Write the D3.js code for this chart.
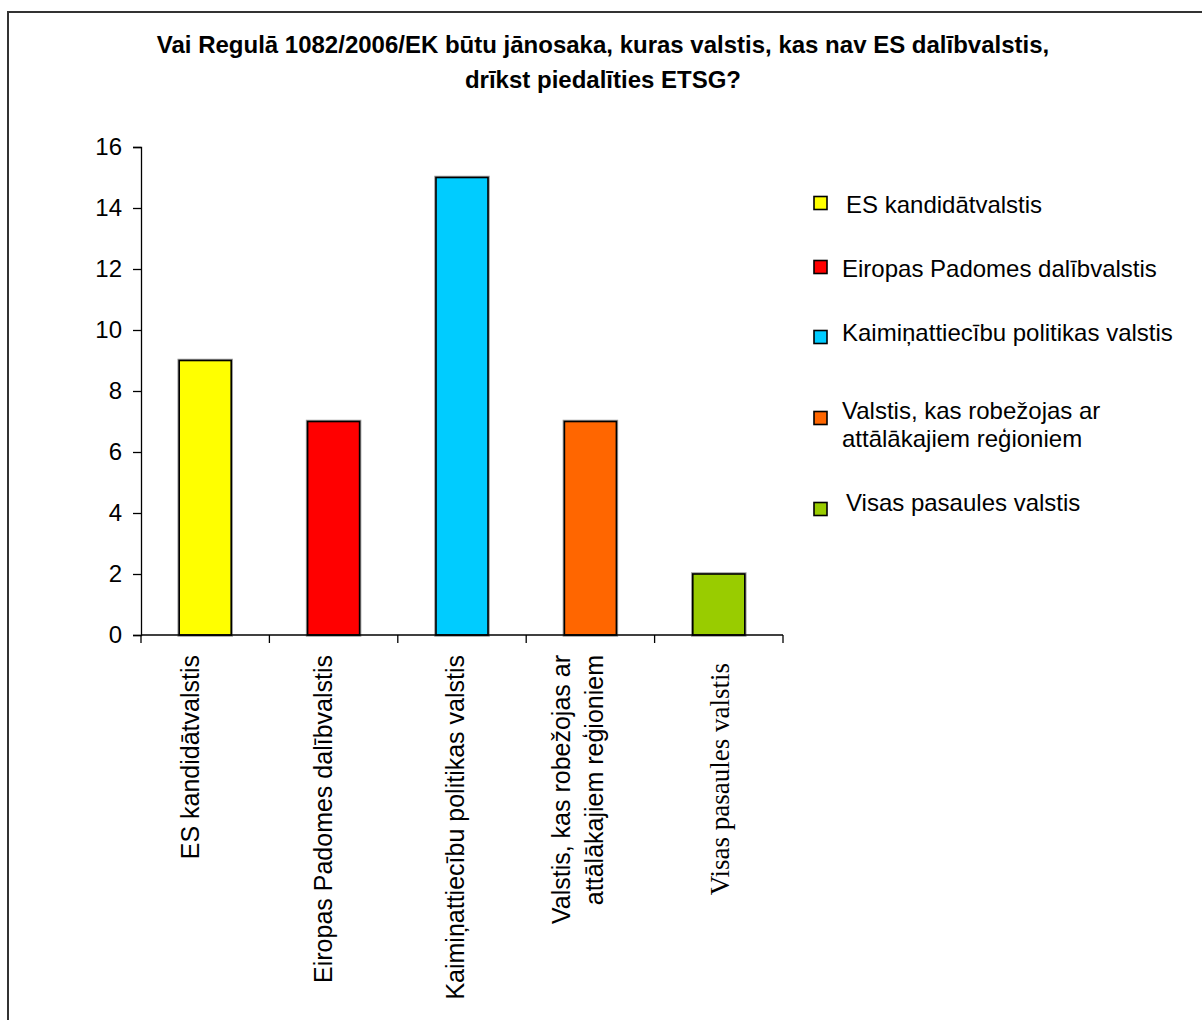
<!DOCTYPE html>
<html>
<head>
<meta charset="utf-8">
<script src="https://cdn.jsdelivr.net/npm/d3@7"></script>
<style>
  html, body { margin: 0; padding: 0; background: #fff; }
  svg { display: block; }
</style>
</head>
<body>
<div id="chart"></div>
<script>
// Chart data
const categories = [
  "ES kandidātvalstis",
  "Eiropas Padomes dalībvalstis",
  "Kaimiņattiecību politikas valstis",
  "Valstis, kas robežojas ar attālākajiem reģioniem",
  "Visas pasaules valstis"
];
const values = [9, 7, 15, 7, 2];
const colors = ["#FFFF00", "#FF0000", "#00CCFF", "#FF6600", "#99CC00"];
const axisLabelLines = [
  ["ES kandidātvalstis"],
  ["Eiropas Padomes dalībvalstis"],
  ["Kaimiņattiecību politikas valstis"],
  ["Valstis, kas robežojas ar", "attālākajiem reģioniem"],
  ["Visas pasaules valstis"]
];
const legendLines = [
  ["ES kandidātvalstis"],
  ["Eiropas Padomes dalībvalstis"],
  ["Kaimiņattiecību politikas valstis"],
  ["Valstis, kas robežojas ar", "attālākajiem reģioniem"],
  ["Visas pasaules valstis"]
];
const yTicks = [0, 2, 4, 6, 8, 10, 12, 14, 16];
const titleLines = [
  "Vai Regulā 1082/2006/EK būtu jānosaka, kuras valstis, kas nav ES dalībvalstis,",
  "drīkst piedalīties ETSG?"
];

const W = 1202, H = 1020;
const sans = "Arial, 'Liberation Sans', sans-serif";
const serif = "'Times New Roman', 'Liberation Serif', serif";

const svg = d3.select("#chart").append("svg")
  .attr("width", W).attr("height", H);

// outer frame
svg.append("rect")
  .attr("x", 8).attr("y", 12)
  .attr("width", W + 10).attr("height", H + 10)
  .attr("fill", "#fff").attr("stroke", "#333").attr("stroke-width", 2);

// title
svg.append("g").selectAll("text").data(titleLines).join("text")
  .attr("x", 603).attr("y", (d, i) => 53 + i * 35)
  .attr("text-anchor", "middle")
  .attr("font-family", sans).attr("font-weight", "bold")
  .attr("font-size", 24).attr("fill", "#000")
  .text(d => d);

// plot area
const plot = { left: 141, right: 783, top: 147, bottom: 635 };
const x = d3.scaleBand().domain(categories)
  .range([plot.left, plot.right]).paddingInner(0.595).paddingOuter(0.2975);
const y = d3.scaleLinear().domain([0, 16]).range([plot.bottom, plot.top]);

// bars: soft grey halo under a black outline
const bars = svg.append("g");
bars.selectAll("rect.halo").data(values).join("rect")
  .attr("class", "halo")
  .attr("x", (d, i) => x(categories[i]))
  .attr("y", d => y(d))
  .attr("width", x.bandwidth())
  .attr("height", d => y(0) - y(d))
  .attr("fill", "none").attr("stroke", "#999").attr("stroke-width", 3.5);
bars.selectAll("rect.bar").data(values).join("rect")
  .attr("class", "bar")
  .attr("x", (d, i) => x(categories[i]))
  .attr("y", d => y(d))
  .attr("width", x.bandwidth())
  .attr("height", d => y(0) - y(d))
  .attr("fill", (d, i) => colors[i])
  .attr("stroke", "#000").attr("stroke-width", 1.6);

// y axis
const yAxis = svg.append("g")
  .attr("transform", `translate(${plot.left},0)`)
  .call(d3.axisLeft(y).tickValues(yTicks).tickSize(8).tickPadding(11).tickFormat(d3.format("d")));
yAxis.select(".domain").attr("stroke", "#000").attr("stroke-width", 1.3);
yAxis.selectAll(".tick line").attr("stroke", "#000").attr("stroke-width", 1.3);
yAxis.selectAll(".tick text")
  .attr("font-family", sans).attr("font-size", 24).attr("fill", "#000");

// x axis with category boundary ticks
const xAxisG = svg.append("g").attr("transform", `translate(0,${plot.bottom})`);
xAxisG.append("line")
  .attr("x1", plot.left).attr("x2", plot.right)
  .attr("stroke", "#000").attr("stroke-width", 1.3);
const bounds = d3.range(categories.length + 1).map(i => plot.left + i * (plot.right - plot.left) / categories.length);
xAxisG.selectAll("line.tk").data(bounds).join("line")
  .attr("class", "tk")
  .attr("x1", d => d).attr("x2", d => d)
  .attr("y1", 0).attr("y2", 8)
  .attr("stroke", "#000").attr("stroke-width", 1.3);

// rotated category labels (read bottom to top, ending just under the axis)
const labelX = d3.scalePoint().domain(categories).range([199, 729]);
const lab = svg.append("g");
categories.forEach((c, i) => {
  const lines = axisLabelLines[i];
  const n = lines.length;
  const isSerif = i === 4;
  const lh = 33;
  const cx = labelX(c);
  const t = lab.append("text")
    .attr("transform", `translate(${cx},${isSerif ? 663 : 655}) rotate(-90)`)
    .attr("text-anchor", "end")
    .attr("font-family", isSerif ? serif : sans)
    .attr("font-size", isSerif ? 27 : 25)
    .attr("fill", "#000");
  lines.forEach((l, j) => {
    t.append("tspan")
      .attr("x", 0)
      .attr("y", (j - (n - 1) / 2) * lh - (n - 1) * 10)
      .text(l);
  });
});

// legend
const legendY = [204, 268, 332, 424, 502];
const boxY = [203, 267, 337, 418, 509];
const legendTextX = [846, 842, 842, 842, 846];
const lg = svg.append("g");
categories.forEach((c, i) => {
  const lines = legendLines[i];
  lg.append("rect")
    .attr("x", 814).attr("y", boxY[i] - 6.5)
    .attr("width", 13).attr("height", 13)
    .attr("fill", colors[i]).attr("stroke", "#000").attr("stroke-width", 1.6);
  const t = lg.append("text")
    .attr("font-family", sans).attr("font-size", 24).attr("fill", "#000");
  lines.forEach((l, j) => {
    t.append("tspan")
      .attr("x", legendTextX[i])
      .attr("y", legendY[i] + 8.5 + (j - (lines.length - 1) / 2) * 28)
      .text(l);
  });
});
</script>
</body>
</html>
